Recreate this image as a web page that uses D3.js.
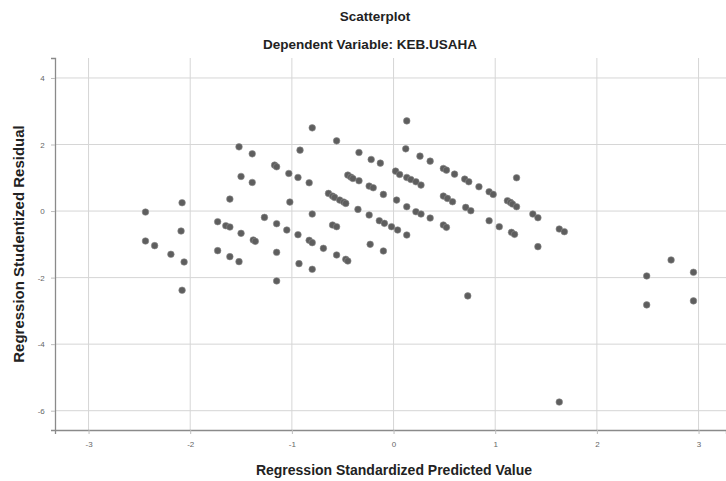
<!DOCTYPE html>
<html>
<head>
<meta charset="utf-8">
<script src="https://cdn.jsdelivr.net/npm/d3@7"></script>
<style>
  body { margin: 0; background: #fff; }
  svg { font-family: "Liberation Sans", Arial, sans-serif; }
</style>
</head>
<body>
<div id="chart"></div>
<script>
// predicted value (x) / studentized residual (y)
const predicted = [
  -2.44, -2.44, -2.35, -2.19, -2.08, -2.09, -2.06, -2.08,
  -1.73, -1.65, -1.61, -1.50, -1.38, -1.36,
  -1.61, -1.52, -1.39, -1.50, -1.39,
  -1.73, -1.61, -1.52,
  -1.27, -1.15, -1.05, -0.94, -0.83, -0.80, -0.69, -0.56, -0.47, -0.45,
  -1.17, -1.15, -1.03, -0.94, -0.83,
  -1.02,
  -1.15, -1.15, -0.93, -0.80,
  -0.92, -0.80, -0.56,
  -0.80,
  -0.60, -0.56,
  -0.64, -0.60, -0.58, -0.53, -0.49, -0.47, -0.35, -0.24, -0.14, -0.09, -0.02, 0.04,
  -0.34, -0.22, -0.13,
  -0.45, -0.42, -0.40, -0.34, -0.24, -0.20, -0.10,
  -0.23, -0.10,
  0.02, 0.06, 0.13, 0.17, 0.22, 0.27,
  0.03, 0.13, 0.22, 0.27, 0.36,
  0.13, 0.12, 0.26, 0.36,
  0.49, 0.52, 0.60, 0.70, 0.74, 0.84, 0.94, 0.98, 1.12, 1.15, 1.17, 1.21,
  0.49, 0.53, 0.58, 0.71, 0.76,
  0.49, 0.52,
  0.13,
  0.94, 1.04, 1.16, 1.19,
  1.21,
  1.37, 1.42, 1.63, 1.68, 1.42,
  0.73, 1.63,
  2.73, 2.49, 2.95, 2.49, 2.95
];
const residual = [
  -0.03, -0.90, -1.04, -1.30, 0.25, -0.60, -1.53, -2.38,
  -0.32, -0.44, -0.48, -0.67, -0.87, -0.91,
  0.36, 1.93, 1.72, 1.04, 0.86,
  -1.19, -1.37, -1.52,
  -0.19, -0.38, -0.57, -0.71, -0.88, -0.95, -1.12, -1.32, -1.45, -1.50,
  1.38, 1.33, 1.13, 1.01, 0.85,
  0.27,
  -1.24, -2.10, -1.58, -1.75,
  1.83, 2.50, 2.11,
  -0.09,
  -0.42, -0.47,
  0.53, 0.45, 0.41, 0.33, 0.27, 0.23, 0.05, -0.12, -0.29, -0.37, -0.47, -0.57,
  1.76, 1.55, 1.44,
  1.08, 1.02, 0.98, 0.91, 0.75, 0.70, 0.50,
  -1.00, -1.20,
  1.20, 1.10, 1.01, 0.95, 0.88, 0.78,
  0.33, 0.13, -0.02, -0.09, -0.21,
  2.71, 1.87, 1.65, 1.50,
  1.28, 1.23, 1.11, 0.96, 0.88, 0.73, 0.58, 0.50, 0.31, 0.26, 0.21, 0.13,
  0.45, 0.38, 0.28, 0.11, 0.01,
  -0.42, -0.49,
  -0.72,
  -0.29, -0.47, -0.64, -0.70,
  1.00,
  -0.09, -0.20, -0.54, -0.62, -1.07,
  -2.55, -5.74,
  -1.47, -1.95, -1.84, -2.82, -2.70
];
const xTicks = [-3, -2, -1, 0, 1, 2, 3];
const yTicks = [4, 2, 0, -2, -4, -6];

const width = 726, height = 481;
const mLeft = 55, mRight = 726, mTop = 58, mBottom = 430;

const svg = d3.select("#chart").append("svg")
    .attr("width", width)
    .attr("height", height);

const x = d3.scaleLinear().domain([-3.33, 3.27]).range([mLeft, mRight]);
const y = d3.scaleLinear().domain([-6.58, 4.6]).range([mBottom, mTop]);

// grid
svg.append("g").selectAll("line")
    .data(xTicks)
    .join("line")
    .attr("x1", d => x(d)).attr("x2", d => x(d))
    .attr("y1", mTop).attr("y2", mBottom)
    .attr("stroke", "#d6d6d6").attr("stroke-width", 1);

svg.append("g").selectAll("line")
    .data(yTicks)
    .join("line")
    .attr("x1", mLeft).attr("x2", mRight)
    .attr("y1", d => y(d)).attr("y2", d => y(d))
    .attr("stroke", "#d6d6d6").attr("stroke-width", 1);

// axes
const xAxis = svg.append("g")
    .attr("transform", `translate(0,${mBottom})`)
    .call(d3.axisBottom(x).tickValues(xTicks).tickSize(4).tickFormat(d => String(d)));
const yAxis = svg.append("g")
    .attr("transform", `translate(${mLeft},0)`)
    .call(d3.axisLeft(y).tickValues(yTicks).tickSize(4).tickFormat(d => String(d)));

[xAxis, yAxis].forEach(a => {
    a.select(".domain").attr("stroke", "#8a8a8a").attr("stroke-width", 1.3);
    a.selectAll(".tick line").attr("stroke", "#bdbdbd");
    a.selectAll(".tick text")
        .attr("fill", "#666")
        .style("font-size", "8px")
        .style("font-family", "'Liberation Sans', Arial, sans-serif");
});
xAxis.selectAll(".tick text").attr("dy", "1.3em");
yAxis.selectAll(".tick text").attr("dx", "-0.4em");

// points
const pts = predicted.map((d, i) => ({ px: d, res: residual[i] }));
svg.append("g").selectAll("circle")
    .data(pts)
    .join("circle")
    .attr("cx", d => x(d.px))
    .attr("cy", d => y(d.res))
    .attr("r", 3.3)
    .attr("fill", "#5e5e5e")
    .attr("stroke", "#8a8a8a")
    .attr("stroke-width", 0.6);

// titles
svg.append("text")
    .attr("x", 375).attr("y", 21)
    .attr("text-anchor", "middle")
    .style("font-size", "13.5px").style("font-weight", "bold")
    .attr("fill", "#222")
    .text("Scatterplot");
svg.append("text")
    .attr("x", 370).attr("y", 49)
    .attr("text-anchor", "middle")
    .style("font-size", "13.5px").style("font-weight", "bold")
    .attr("fill", "#222")
    .text("Dependent Variable: KEB.USAHA");
svg.append("text")
    .attr("x", 394).attr("y", 475)
    .attr("text-anchor", "middle")
    .style("font-size", "14px").style("font-weight", "bold")
    .attr("fill", "#222")
    .text("Regression Standardized Predicted Value");
svg.append("text")
    .attr("transform", `translate(24,${(mTop + mBottom) / 2}) rotate(-90)`)
    .attr("text-anchor", "middle")
    .style("font-size", "15px").style("font-weight", "bold")
    .attr("fill", "#222")
    .text("Regression Studentized Residual");
</script>
</body>
</html>
